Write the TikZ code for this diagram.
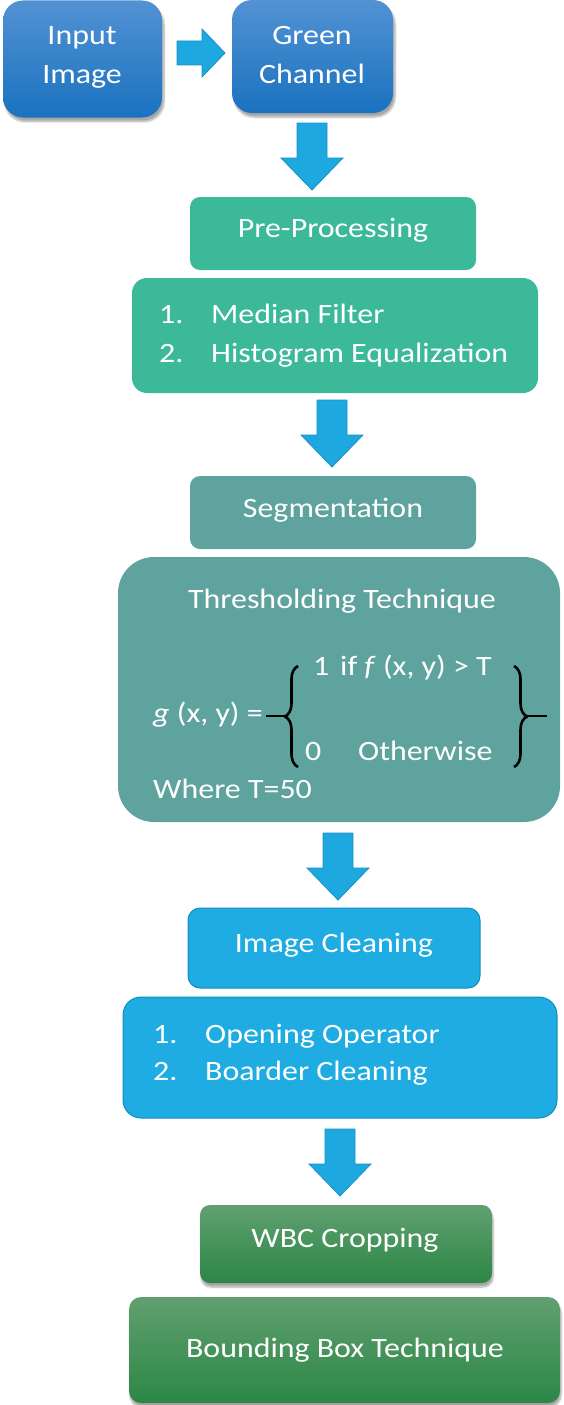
\documentclass[tikz,border=0pt]{standalone}
\usepackage{fontspec}
\setmainfont{Carlito}[FakeStretch=1.14]
\usetikzlibrary{shadows.blur,decorations.pathreplacing,calc}
\definecolor{blueTop}{RGB}{82,146,211}
\definecolor{blueBot}{RGB}{26,114,191}
\definecolor{arrFill}{RGB}{30,168,224}
\definecolor{arrLine}{RGB}{26,145,200}
\definecolor{preGreen}{RGB}{59,185,153}
\definecolor{segTeal}{RGB}{95,163,158}
\definecolor{cleanBlue}{RGB}{30,172,226}
\definecolor{cleanLine}{RGB}{24,140,190}
\definecolor{wbcTop}{RGB}{96,160,112}
\definecolor{wbcBot}{RGB}{44,134,70}
\tikzset{
  boxbase/.style={inner sep=0pt, draw=none},
  bluebox/.style={boxbase, top color=blueTop, bottom color=blueBot, rounded corners=20pt,
     blur shadow={shadow xshift=2pt, shadow yshift=-4pt, shadow opacity=35, shadow blur steps=6}},
  prebox/.style={boxbase, fill=preGreen},
  segbox/.style={boxbase, fill=segTeal},
  cleanbox/.style={boxbase, fill=cleanBlue, draw=cleanLine, line width=1pt},
  wbcbox/.style={boxbase, top color=wbcTop, bottom color=wbcBot,
     blur shadow={shadow xshift=1pt, shadow yshift=-4pt, shadow opacity=35, shadow blur steps=6}},
  txt/.style={text=white, font=\fontsize{28}{34}\selectfont, inner sep=0pt},
  arrowstyle/.style={fill=arrFill, draw=arrLine, line width=0.8pt, line join=miter},
  bracestyle/.style={draw=black, line width=2.6pt, decorate, decoration={brace, amplitude=13pt}},
  pics/darrow/.style={code={
    \draw[arrowstyle] (-15,0) -- (15,0) -- (15,35) -- (31,35) -- (0,67) -- (-31,35) -- (-15,35) -- cycle;}}
}
\begin{document}
\begin{tikzpicture}[x=1pt,y=-1pt]
\useasboundingbox (0,0) rectangle (563,1405);
% boxes
\node[bluebox, minimum width=159pt, minimum height=117pt] (inp) at (82.5,59) {};
\node[bluebox, minimum width=161pt, minimum height=113pt] (gc) at (312.5,56.5) {};
\node[prebox, rounded corners=10pt, minimum width=286pt, minimum height=73pt] (pre) at (333,233.5) {};
\node[prebox, rounded corners=15pt, minimum width=406pt, minimum height=115pt] (med) at (335,335.5) {};
\node[segbox, rounded corners=10pt, minimum width=286pt, minimum height=73pt] (seg) at (333,512.5) {};
\node[segbox, rounded corners=36pt, minimum width=442pt, minimum height=265pt] (thr) at (339,689.5) {};
\node[cleanbox, rounded corners=12pt, minimum width=292pt, minimum height=80pt] (icl) at (334,948) {};
\node[cleanbox, rounded corners=18pt, minimum width=434pt, minimum height=121pt] (opn) at (340,1057.5) {};
\node[wbcbox, rounded corners=10pt, minimum width=292pt, minimum height=78pt] (wbc) at (346,1244) {};
\node[wbcbox, rounded corners=12pt, minimum width=431pt, minimum height=106pt] (bbt) at (344.5,1350) {};
% arrows
\coordinate (ar1) at ($(inp.east)!0.5!(gc.west)$);
\draw[arrowstyle] (177,41) -- (202,41) -- (202,29) -- (225,53) -- (202,77) -- (202,65) -- (177,65) -- cycle;
\coordinate (ar2) at (312,123);
\coordinate (ar3) at (332,400);
\coordinate (ar4) at (338,833);
\coordinate (ar5) at (340,1129);
\pic at (ar2) {darrow};
\pic at (ar3) {darrow};
\pic at (ar4) {darrow};
\pic at (ar5) {darrow};
% texts
\node[txt, anchor=base] (t1) at (82,45) {Input};
\node[txt, anchor=base] (t2) at (82,83) {Image};
\node[txt, anchor=base] (t3) at (312,45) {Green};
\node[txt, anchor=base] (t4) at (312,83) {Channel};
\node[txt, anchor=base] (t5) at (333,237) {Pre-Processing};
\node[txt, anchor=base west] (t6n) at (159,323) {1.};
\node[txt, anchor=base west] (t6) at (211,323) {Median Filter};
\node[txt, anchor=base west] (t7n) at (159,362) {2.};
\node[txt, anchor=base west] (t7) at (211,362) {Histogram Equalization};
\node[txt, anchor=base] (t8) at (333,517) {Segmentation};
\node[txt, anchor=base] (t9) at (342,608) {Thresholding Technique};
\node[txt, anchor=base west] (t10) at (153,722) {\textit{g} (x, y) =};
\node[txt, anchor=base west] (t11n) at (313,675) {1};
\node[txt, anchor=base west] (t11) at (340,675) {if \textit{f} (x, y) > T};
\node[txt, anchor=base west] (t12n) at (305,760) {0};
\node[txt, anchor=base west] (t12) at (358,760) {Otherwise};
\node[txt, anchor=base west] (t13) at (153,798) {Where T=50};
\node[txt, anchor=base] (t14) at (334,952) {Image Cleaning};
\node[txt, anchor=base west] (t15n) at (153,1043) {1.};
\node[txt, anchor=base west] (t15) at (205,1043) {Opening Operator};
\node[txt, anchor=base west] (t16n) at (153,1080) {2.};
\node[txt, anchor=base west] (t16) at (205,1080) {Boarder Cleaning};
\node[txt, anchor=base] (t17) at (345,1247) {WBC Cropping};
\node[txt, anchor=base] (t18) at (345,1357) {Bounding Box Technique};
% braces
\coordinate (lb1) at (298,767);
\coordinate (lb2) at (298,666);
\coordinate (rb1) at (514,666);
\coordinate (rb2) at (514,767);
\draw[bracestyle] (lb1) -- (lb2);
\draw[bracestyle] (rb1) -- (rb2);
\coordinate (ll1) at (266,716);
\coordinate (ll2) at (286,716);
\coordinate (rl1) at (526,716);
\coordinate (rl2) at (547,716);
\draw[line width=2.6pt] (ll1) -- (ll2);
\draw[line width=2.6pt] (rl1) -- (rl2);
\end{tikzpicture}
\end{document}
